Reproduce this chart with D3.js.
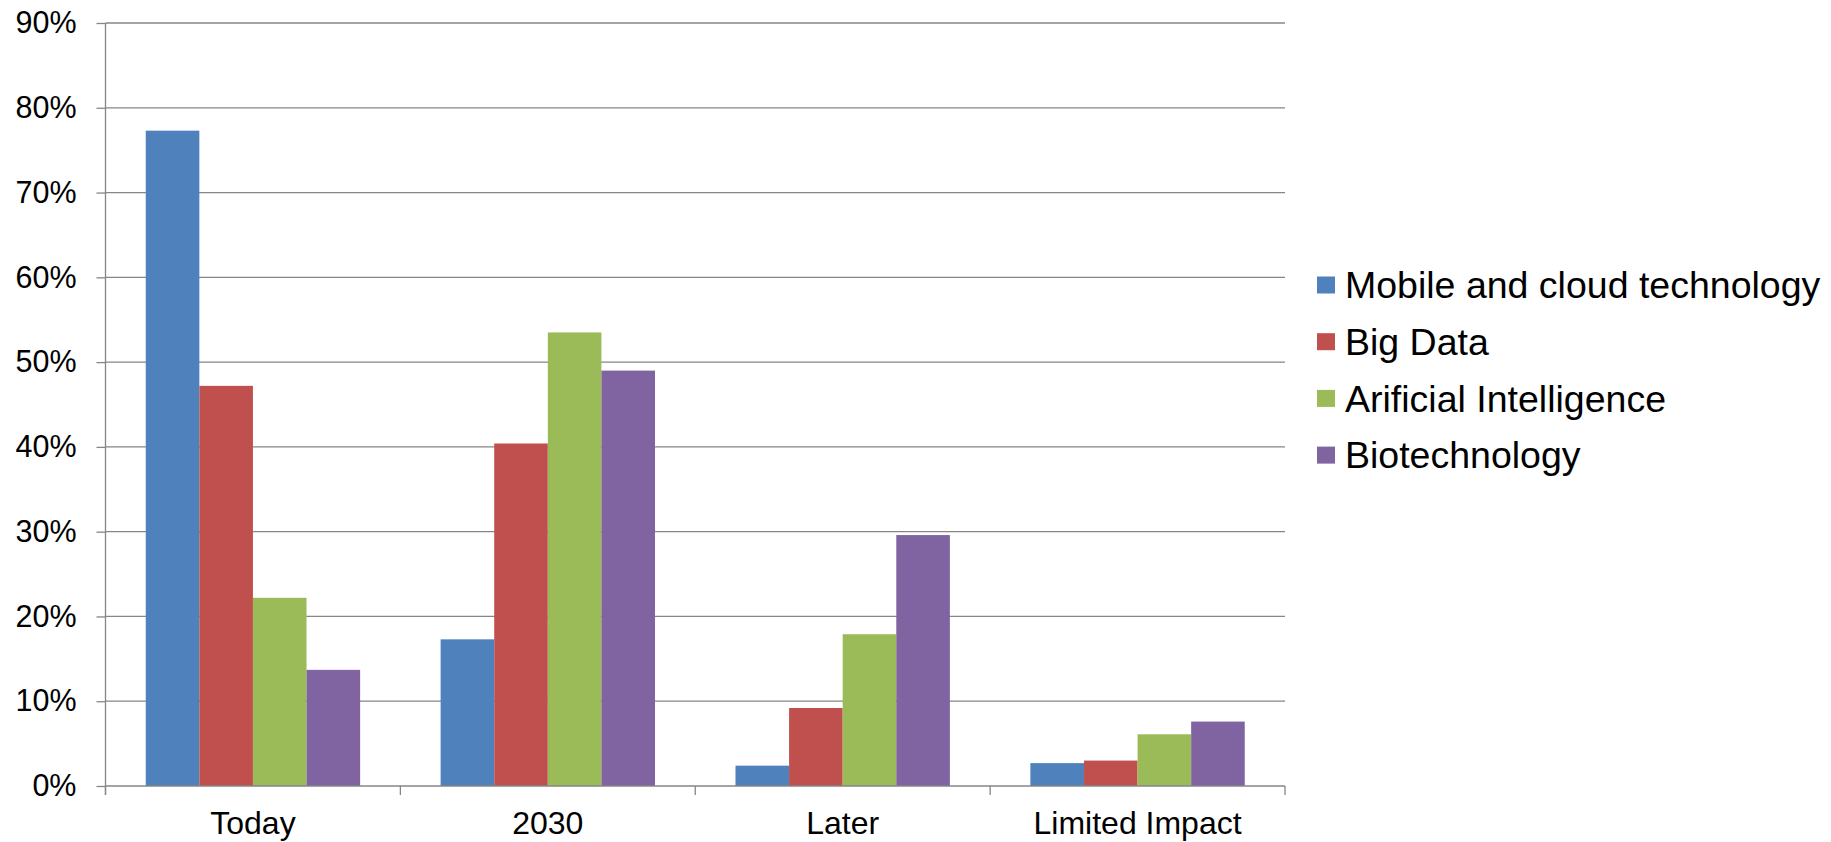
<!DOCTYPE html>
<html>
<head>
<meta charset="utf-8">
<script src="https://cdn.jsdelivr.net/npm/d3@7"></script>
<style>
  body { margin: 0; background: #fff; }
  text { font-family: "Liberation Sans", Arial, sans-serif; fill: #000; }
</style>
</head>
<body>
<div id="chart"></div>
<script>
var categories = ["Today", "2030", "Later", "Limited Impact"]
var seriesNames = ["Mobile and cloud technology", "Big Data", "Arificial Intelligence", "Biotechnology"]
var mobileCloud = [0.773, 0.173, 0.024, 0.027]
var bigData = [0.472, 0.404, 0.092, 0.030]
var artificialIntel = [0.222, 0.535, 0.179, 0.061]
var biotech = [0.137, 0.490, 0.296, 0.076]
var yTicks = [0, 0.1, 0.2, 0.3, 0.4, 0.5, 0.6, 0.7, 0.8, 0.9]
var colors = ["#4F81BD", "#C0504D", "#9BBB59", "#8064A2"]

var allSeries = [mobileCloud, bigData, artificialIntel, biotech]

var width = 1831, height = 842
var margin = {top: 23, right: 546, bottom: 56, left: 105.5}
var w = width - margin.left - margin.right,
    h = height - margin.top - margin.bottom

var svg = d3.select("#chart").append("svg")
    .attr("width", width)
    .attr("height", height)

var g = svg.append("g")
    .attr("transform", "translate(" + margin.left + "," + margin.top + ")")

var x0 = d3.scaleBand()
    .domain(categories)
    .range([0, w])
    .paddingInner(0.273)
    .paddingOuter(0.1365)

var x1 = d3.scaleBand()
    .domain(d3.range(seriesNames.length))
    .range([0, x0.bandwidth()])

var y = d3.scaleLinear().domain([0, 0.9]).range([h, 0])

var gridColor = "#868686"

// gridlines
g.selectAll(".grid")
    .data(yTicks.slice(1))
    .enter().append("line")
    .attr("x1", 0)
    .attr("x2", w)
    .attr("y1", function (d) { return y(d) })
    .attr("y2", function (d) { return y(d) })
    .style("stroke", gridColor)
    .style("stroke-width", 1.3)

// bars
var groups = g.selectAll(".cat")
    .data(categories)
    .enter().append("g")
    .attr("transform", function (d) { return "translate(" + x0(d) + ",0)" })

groups.selectAll("rect")
    .data(function (d, i) {
        return allSeries.map(function (s, j) { return {k: j, v: s[i]} })
    })
    .enter().append("rect")
    .attr("x", function (d) { return x1(d.k) })
    .attr("width", x1.bandwidth())
    .attr("y", function (d) { return y(d.v) })
    .attr("height", function (d) { return h - y(d.v) })
    .style("fill", function (d) { return colors[d.k] })

// y axis
var yAxis = g.append("g")
    .call(d3.axisLeft(y).tickValues(yTicks).tickSize(9).tickPadding(20)
        .tickFormat(d3.format(".0%")))
yAxis.select(".domain").attr("d", "M0," + (h + 9) + "V0").style("stroke", gridColor).style("stroke-width", 1.3)
yAxis.selectAll(".tick line").style("stroke", gridColor).style("stroke-width", 1.3)
yAxis.selectAll("text").style("font-size", "30.5px").style("font-family", "Liberation Sans, Arial, sans-serif")

// x axis
var bounds = [0].concat(categories.map(function (c) { return x0(c) + x0.bandwidth() + x0.step() * x0.paddingInner() / 2 }))
bounds[bounds.length - 1] = w
var xAxis = g.append("g").attr("transform", "translate(0," + h + ")")
xAxis.append("line").attr("x1", 0).attr("x2", w).style("stroke", gridColor).style("stroke-width", 1.3)
xAxis.selectAll(".xt")
    .data(bounds)
    .enter().append("line")
    .attr("x1", function (d) { return d }).attr("x2", function (d) { return d })
    .attr("y1", 0).attr("y2", 9)
    .style("stroke", gridColor).style("stroke-width", 1.3)
xAxis.selectAll(".xl")
    .data(categories)
    .enter().append("text")
    .attr("x", function (d) { return x0(d) + x0.bandwidth() / 2 })
    .attr("y", 48)
    .attr("text-anchor", "middle")
    .style("font-size", "32px")
    .text(function (d) { return d })

// legend
var legend = svg.append("g").attr("transform", "translate(1317,285)")
var item = legend.selectAll(".leg")
    .data(seriesNames)
    .enter().append("g")
    .attr("transform", function (d, i) { return "translate(0," + (i * 56.7) + ")" })
item.append("rect")
    .attr("x", 0).attr("y", -8.5)
    .attr("width", 18).attr("height", 17)
    .style("fill", function (d, i) { return colors[i] })
item.append("text")
    .attr("x", 28)
    .attr("dy", "0.35em")
    .style("font-size", "37.5px")
    .text(function (d) { return d })
</script>
</body>
</html>
